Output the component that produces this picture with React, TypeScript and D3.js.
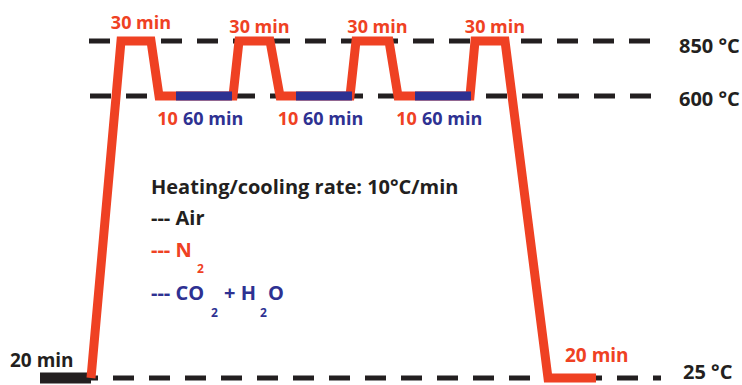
import React from "react";
import * as d3 from "d3";

// schematic time axis (not to scale), temperature in °C
const profileX = [51, 81, 111, 119, 193, 199, 230, 240, 310, 316, 349, 358, 430, 435, 465, 508, 556];
const profileT = [25, 850, 850, 600, 600, 850, 850, 600, 600, 850, 850, 600, 600, 850, 850, 25, 25];

const holdStart = [136, 256, 375];
const holdEnd = [192, 312, 431];
const purgeStart = [119, 240, 358];

const plateauStart = [81, 199, 316, 435];
const plateauEnd = [111, 230, 349, 465];

const airBar = [0, 51];
const levels = [850, 600, 25];
const levelLabels = ["850 °C", "600 °C", "25 °C"];
const levelLineStart = [49, 50, 1];
const levelLineEnd = [613, 613, 621];

const RED = "#EF4123";
const BLUE = "#2E3192";
const BLACK = "#231F20";
const FONT = "'Open Sans', sans-serif";

export default function App() {
  const width = 742;
  const height = 385;

  const x = d3.scaleLinear().domain([0, 621]).range([40, 661]);
  const y = d3.scaleLinear().domain([25, 600, 850]).range([378, 96, 41]);

  const pts: [number, number][] = profileX.map((d, i) => [x(d), y(profileT[i])]);
  const line = d3.line();

  const labelY = [29, 33, 33, 33];
  const levelLabelY = [y(850) + 12, y(600) + 10, y(25) + 1];
  const levelLabelX = [679, 679, 683];

  return (
    <svg width={width} height={height} style={{ position: "absolute", left: 0, top: 0 }}>
      <rect width={width} height={height} fill="#fff" />

      {levels.map((t, i) => (
        <line
          key={"lv" + i}
          x1={x(levelLineStart[i])}
          x2={x(levelLineEnd[i])}
          y1={y(t)}
          y2={y(t)}
          stroke={BLACK}
          strokeWidth={5}
          strokeDasharray="21 15"
        />
      ))}

      <line x1={x(airBar[0])} x2={x(airBar[1])} y1={y(25)} y2={y(25)} stroke={BLACK} strokeWidth={11} />

      <path
        d={line(pts) || ""}
        fill="none"
        stroke={RED}
        strokeWidth={9}
        strokeLinejoin="miter"
        strokeMiterlimit={20}
      />

      {holdStart.map((d, i) => (
        <line key={"h" + i} x1={x(d)} x2={x(holdEnd[i])} y1={y(600)} y2={y(600)} stroke={BLUE} strokeWidth={9} />
      ))}

      <g fontFamily={FONT} fontWeight="bold">
        {plateauStart.map((d, i) => (
          <text key={"p" + i} x={(x(d) + x(plateauEnd[i])) / 2 + 5} y={labelY[i]} fill={RED} fontSize={18} textAnchor="middle">
            30 min
          </text>
        ))}

        {holdStart.map((d, i) => (
          <g key={"l" + i}>
            <text x={(x(purgeStart[i]) + x(d)) / 2} y={125} fill={RED} fontSize={18} textAnchor="middle">
              10
            </text>
            <text x={x(d) + 7} y={125} fill={BLUE} fontSize={18}>
              60 min
            </text>
          </g>
        ))}

        {levelLabels.map((s, i) => (
          <text key={"t" + i} x={levelLabelX[i]} y={levelLabelY[i]} fill={BLACK} fontSize={20}>
            {s}
          </text>
        ))}

        <text x={10} y={367} fill={BLACK} fontSize={19}>20 min</text>
        <text x={565} y={362} fill={RED} fontSize={19}>20 min</text>

        <text x={151} y={194} fill={BLACK} fontSize={20}>Heating/cooling rate: 10°C/min</text>
        <text x={151} y={225} fill={BLACK} fontSize={20}>--- Air</text>
        <text x={151} y={257} fill={RED} fontSize={20}>--- N</text>
        <text x={197} y={273} fill={RED} fontSize={12}>2</text>
        <text x={151} y={300} fill={BLUE} fontSize={20}>--- CO</text>
        <text x={211} y={317} fill={BLUE} fontSize={12}>2</text>
        <text x={224} y={300} fill={BLUE} fontSize={20}>+ H</text>
        <text x={260} y={317} fill={BLUE} fontSize={12}>2</text>
        <text x={268} y={300} fill={BLUE} fontSize={20}>O</text>
      </g>
    </svg>
  );
}
